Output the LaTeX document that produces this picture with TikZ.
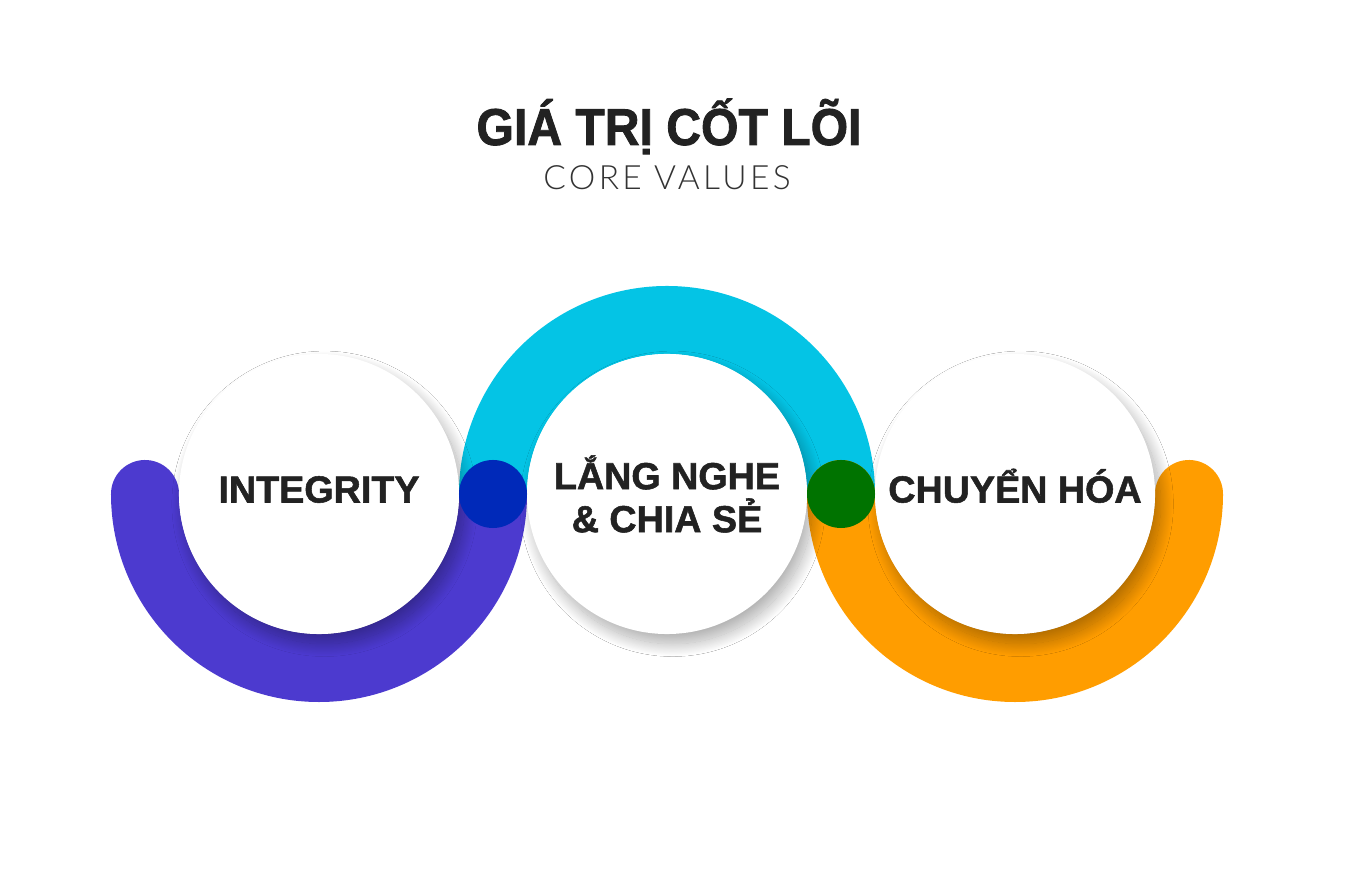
\documentclass[tikz,border=0pt]{standalone}
\usepackage{fontspec}
\setmainfont{Liberation Sans}
\newfontfamily\titlefont{Liberation Sans}[FakeStretch=0.93,FakeBold=1.6]
\newfontfamily\labelfont{Liberation Sans}[FakeBold=1.4]
\newfontfamily\thinfont{Lato Light}[LetterSpace=10]
\usetikzlibrary{calc,shadows.blur}

\definecolor{bandpurple}{RGB}{76,58,207}
\definecolor{bandcyan}{RGB}{4,196,229}
\definecolor{bandorange}{RGB}{255,157,0}
\definecolor{jointblue}{RGB}{0,41,185}
\definecolor{jointgreen}{RGB}{0,115,0}
\definecolor{textdark}{RGB}{34,34,34}
\definecolor{textgray}{RGB}{51,51,51}

\begin{document}
\begin{tikzpicture}[x=0.025cm,y=0.025cm,
    valuecircle/.style={circle,fill=white,minimum size=7cm,inner sep=0pt,
        text=textdark,align=center,
        font=\labelfont\bfseries\fontsize{26.8}{30.6}\selectfont,
        blur shadow={shadow xshift=4pt,shadow yshift=-7pt,
            shadow blur radius=9pt,shadow blur steps=30,shadow opacity=32}},
    oneline/.style={text height=0.675cm,text depth=0.25cm},
    band/.style={line width=1.7cm},
    joint/.style={circle,minimum size=1.7cm,inner sep=0pt}]

    % Page (pixel grid of the reference, y upwards)
    \useasboundingbox (0,0) rectangle (1368,881);
    \fill[white] (0,0) rectangle (1368,881);

    % Centres of the three value circles
    \coordinate (c1) at (319,387);
    \coordinate (c2) at (667,387);
    \coordinate (c3) at (1015,387);

    % Heading
    \node[anchor=base,text=textdark,font=\titlefont\bfseries\fontsize{36.8}{40}\selectfont]
        (title) at (669,736) {GIÁ TRỊ CỐT LÕI};
    \node[anchor=base,text=textgray,font=\thinfont\fontsize{23.8}{28}\selectfont]
        (subtitle) at (667,691) {CORE VALUES};

    % Bands (radius 174, width 68)
    \draw[band,bandpurple,line cap=round] ($(c1)+(-174,0)$)
        arc[start angle=180,end angle=360,radius=174];
    \draw[band,bandcyan] ($(c2)+(-174,0)$)
        arc[start angle=180,end angle=0,radius=174];
    \draw[band,bandorange,line cap=round] ($(c3)+(-174,0)$)
        arc[start angle=180,end angle=360,radius=174];

    % Value circles
    \node[valuecircle,oneline] (integrity) at (c1) {INTEGRITY};
    \node[valuecircle] (listen) at (c2) {LẮNG NGHE\\\& CHIA SẺ};
    \node[valuecircle,oneline] (change) at (c3) {CHUYỂN HÓA};

    % Joints between the bands
    \node[joint,fill=jointblue] (jointa) at ($(c1)!0.5!(c2)$) {};
    \node[joint,fill=jointgreen] (jointb) at ($(c2)!0.5!(c3)$) {};

\end{tikzpicture}
\end{document}
